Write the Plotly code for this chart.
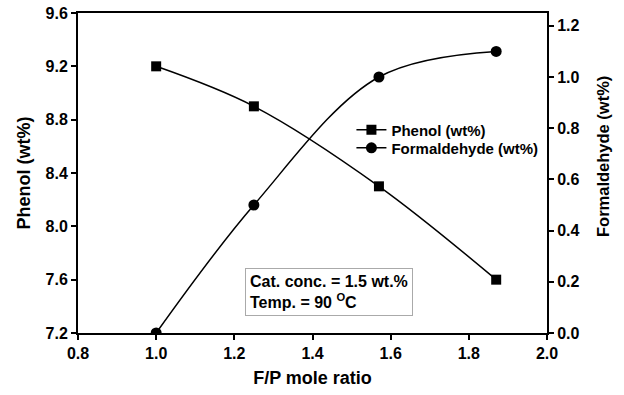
import plotly.graph_objects as go

fp_ratio = [1.0, 1.25, 1.57, 1.87]
phenol = [9.2, 8.9, 8.3, 7.6]
formaldehyde = [0.0, 0.5, 1.0, 1.1]

x_ticks = [0.8, 1.0, 1.2, 1.4, 1.6, 1.8, 2.0]
y1_ticks = [7.2, 7.6, 8.0, 8.4, 8.8, 9.2, 9.6]
y2_ticks = [0.0, 0.2, 0.4, 0.6, 0.8, 1.0, 1.2]

font_family = "Liberation Sans, Arial, sans-serif"


def bold_labels(vals):
    return ["<b>%.1f</b>" % v for v in vals]


fig = go.Figure()
fig.add_trace(go.Scatter(
    x=fp_ratio, y=phenol, name="<b>Phenol (wt%)</b>", legend="legend",
    mode="lines+markers", line=dict(color="black", width=1.5, shape="spline"),
    marker=dict(symbol="square", size=10, color="black"),
))
fig.add_trace(go.Scatter(
    x=fp_ratio, y=formaldehyde, name="<b>Formaldehyde (wt%)</b>", yaxis="y2", legend="legend2",
    mode="lines+markers", line=dict(color="black", width=1.5, shape="spline"),
    marker=dict(symbol="circle", size=11, color="black"),
))

axis_common = dict(
    showgrid=False, zeroline=False, showline=True, linecolor="black", linewidth=2,
    ticks="outside", ticklen=5, tickwidth=2, tickcolor="black", automargin=False,
    tickfont=dict(family=font_family, size=16, color="black"),
)

legend_common = dict(xanchor="left", yanchor="middle", bgcolor="rgba(0,0,0,0)",
                     font=dict(size=15, family=font_family), itemwidth=30)

plot_w = 624 - 78 - 77
plot_h = 395 - 13 - 62

fig.update_layout(
    template="none",
    width=624, height=395,
    margin=dict(l=78, r=77, t=13, b=62),
    paper_bgcolor="white", plot_bgcolor="white",
    font=dict(family=font_family, color="black"),
    xaxis=dict(range=[0.8, 2.0], tickvals=x_ticks, ticktext=bold_labels(x_ticks), mirror=True,
               title=dict(text="<b>F/P mole ratio</b>", font=dict(size=18), standoff=10),
               **axis_common),
    yaxis=dict(range=[7.2, 9.6], tickvals=y1_ticks, ticktext=bold_labels(y1_ticks),
               title=dict(text="<b>Phenol (wt%)</b>", font=dict(size=18), standoff=10),
               **axis_common),
    yaxis2=dict(range=[0, 1.25], tickvals=y2_ticks, ticktext=bold_labels(y2_ticks),
                overlaying="y", side="right", **axis_common),
    showlegend=True,
    legend=dict(x=0.583, y=0.634, **legend_common),
    legend2=dict(x=0.583, y=0.578, **legend_common),
    annotations=[
        dict(
            x=0.356, y=0.128, xref="paper", yref="paper", xanchor="left", yanchor="middle",
            text="<b>Cat. conc. = 1.5 wt.%</b><br><b>Temp. = 90 <sup>O</sup>C</b>",
            showarrow=False, align="left", font=dict(size=16, family=font_family),
            bordercolor="#aaaaaa", borderwidth=1, borderpad=4, bgcolor="white",
        ),
        dict(
            x=(603 - 78) / plot_w, y=(395 - 62 - 157) / plot_h, xref="paper", yref="paper",
            xanchor="center", yanchor="middle",
            text="<b>Formaldehyde (wt%)</b>", textangle=-90, showarrow=False,
            font=dict(size=16.5, family=font_family),
        ),
    ],
)

fig.write_html("out.html")
